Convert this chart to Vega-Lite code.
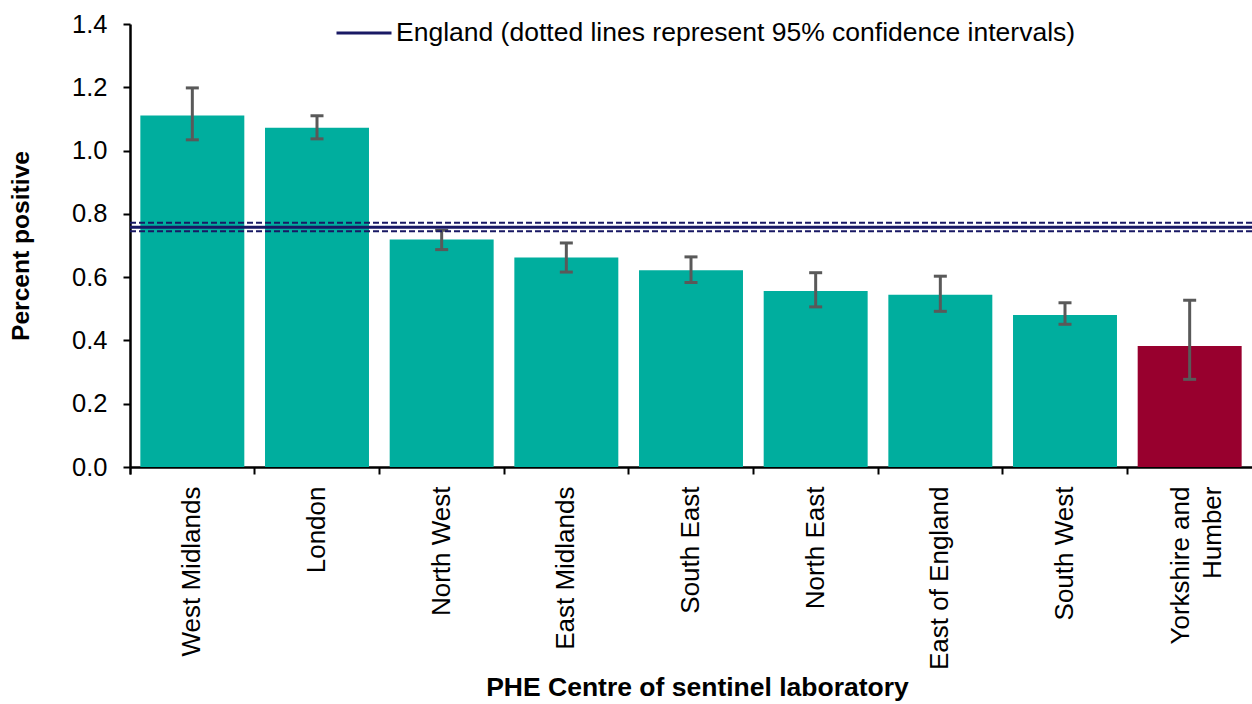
{
  "$schema": "https://vega.github.io/schema/vega-lite/v6.json",
  "width": 1122,
  "height": 443,
  "autosize": {"type": "none"},
  "padding": {"left": 130, "top": 24, "right": 0, "bottom": 237},
  "background": "white",
  "config": {
    "view": {"stroke": null},
    "font": "Liberation Sans",
    "axis": {
      "domainColor": "#000",
      "domainWidth": 2.5,
      "tickColor": "#000",
      "tickWidth": 2,
      "tickSize": 7,
      "labelColor": "#000",
      "titleColor": "#000",
      "grid": false,
      "labelFont": "Liberation Sans",
      "titleFont": "Liberation Sans"
    },
    "legend": {
      "labelFont": "Liberation Sans",
      "labelFontSize": 26.5,
      "labelColor": "#000",
      "labelLimit": 0
    }
  },
  "datasets": {
    "regions": [
      {"region": "West Midlands", "value": 1.111, "lower": 1.034, "upper": 1.198},
      {"region": "London", "value": 1.072, "lower": 1.037, "upper": 1.110},
      {"region": "North West", "value": 0.719, "lower": 0.687, "upper": 0.748},
      {"region": "East Midlands", "value": 0.662, "lower": 0.616, "upper": 0.708},
      {"region": "South East", "value": 0.622, "lower": 0.583, "upper": 0.664},
      {"region": "North East", "value": 0.556, "lower": 0.506, "upper": 0.614},
      {"region": "East of England", "value": 0.544, "lower": 0.492, "upper": 0.603},
      {"region": "South West", "value": 0.480, "lower": 0.451, "upper": 0.519},
      {"region": "Yorkshire and Humber", "value": 0.382, "lower": 0.277, "upper": 0.527}
    ],
    "england": [
      {"series": "England (dotted lines represent 95% confidence intervals)", "value": 0.758, "lower": 0.745, "upper": 0.772}
    ]
  },
  "layer": [
    {
      "data": {"name": "regions"},
      "mark": {"type": "bar", "width": {"band": 0.834}},
      "encoding": {
        "x": {
          "field": "region",
          "type": "nominal",
          "sort": null,
          "scale": {"paddingInner": 0, "paddingOuter": 0},
          "axis": {
            "labelAngle": -90,
            "labelFontSize": 26,
            "labelPadding": 12,
            "labelLimit": 0,
            "labelLineHeight": 32,
            "labelOffset": {"condition": {"test": "datum.value == 'Yorkshire and Humber'", "value": -9}, "value": 0},
            "labelExpr": "datum.value == 'Yorkshire and Humber' ? ['Yorkshire and', 'Humber'] : datum.label",
            "bandPosition": 0,
            "tickExtra": true,
            "title": "PHE Centre of sentinel laboratory",
            "titleFontSize": 26.5,
            "titleFontWeight": "bold",
            "titleX": 567,
            "titleY": 228,
            "titleBaseline": "alphabetic",
            "titleAlign": "center"
          }
        },
        "y": {
          "field": "value",
          "type": "quantitative",
          "scale": {"domain": [0, 1.4], "nice": false, "zero": true},
          "axis": {
            "values": [0, 0.2, 0.4, 0.6, 0.8, 1.0, 1.2, 1.4],
            "format": ".1f",
            "labelFontSize": 25.5,
            "labelPadding": 16,
            "title": "Percent positive",
            "titleFontSize": 24.6,
            "titleFontWeight": "bold",
            "titleX": -97,
            "titleY": 221.5,
            "titleBaseline": "bottom",
            "titleAlign": "center"
          }
        },
        "color": {
          "condition": {"test": "datum.region === 'Yorkshire and Humber'", "value": "#98002E"},
          "value": "#00AE9E"
        }
      }
    },
    {
      "data": {"name": "regions"},
      "mark": {"type": "rule", "color": "#595959", "strokeWidth": 3},
      "encoding": {
        "x": {"field": "region", "type": "nominal", "sort": null},
        "y": {"field": "lower", "type": "quantitative"},
        "y2": {"field": "upper"}
      }
    },
    {
      "data": {"name": "regions"},
      "mark": {"type": "tick", "color": "#595959", "size": 13, "thickness": 3, "opacity": 1},
      "encoding": {
        "x": {"field": "region", "type": "nominal", "sort": null},
        "y": {"field": "lower", "type": "quantitative"}
      }
    },
    {
      "data": {"name": "regions"},
      "mark": {"type": "tick", "color": "#595959", "size": 13, "thickness": 3, "opacity": 1},
      "encoding": {
        "x": {"field": "region", "type": "nominal", "sort": null},
        "y": {"field": "upper", "type": "quantitative"}
      }
    },
    {
      "data": {"name": "england"},
      "mark": {"type": "rule", "color": "#191964", "strokeWidth": 2, "strokeDash": [6, 3]},
      "encoding": {
        "y": {"field": "lower", "type": "quantitative"}
      }
    },
    {
      "data": {"name": "england"},
      "mark": {"type": "rule", "color": "#191964", "strokeWidth": 2, "strokeDash": [6, 3]},
      "encoding": {
        "y": {"field": "upper", "type": "quantitative"}
      }
    },
    {
      "data": {"name": "england"},
      "mark": {"type": "rule", "strokeWidth": 3},
      "encoding": {
        "y": {"field": "value", "type": "quantitative"},
        "color": {
          "field": "series",
          "type": "nominal",
          "scale": {"range": ["#191964"]},
          "legend": {
            "title": null,
            "orient": "none",
            "legendX": 205,
            "legendY": -20,
            "symbolType": "stroke",
            "symbolSize": 3025,
            "symbolStrokeWidth": 3,
            "symbolStrokeColor": "#191964",
            "labelOffset": 3,
            "padding": 0
          }
        }
      }
    }
  ]
}
